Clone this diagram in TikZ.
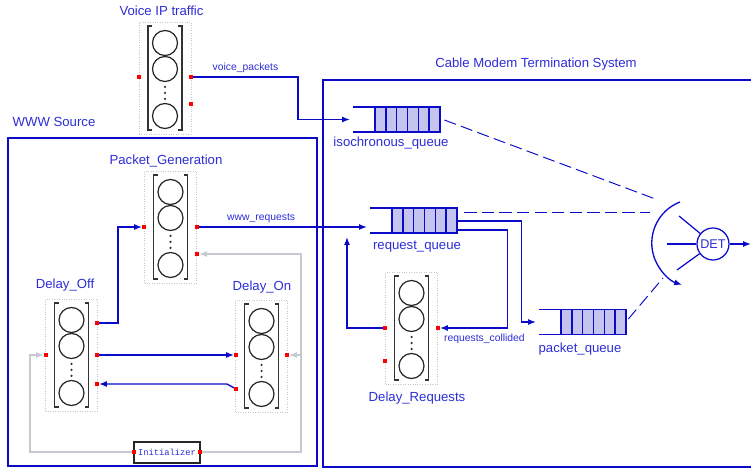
\documentclass[tikz,border=0pt]{standalone}
\usepackage{fontspec}
\setmainfont{Liberation Sans}
\setmonofont{Liberation Mono}
\usetikzlibrary{arrows.meta, positioning, calc}

\definecolor{linkblue}{RGB}{10,10,200}
\definecolor{txtblue}{RGB}{45,45,215}
\definecolor{wire}{RGB}{198,202,208}
\definecolor{cellfill}{RGB}{196,196,238}

\begin{document}
\begin{tikzpicture}[
    x=0.02cm, y=-0.02cm,
    title/.style={text=txtblue, font=\fontsize{7.5}{9}\selectfont, inner sep=0pt},
    lbl/.style={text=txtblue, font=\fontsize{5.9}{7}\selectfont, inner sep=1pt},
    frame/.style={draw=linkblue, line width=0.6pt},
    flow/.style={draw=linkblue, line width=0.75pt, -{Latex[length=4.5pt,width=3.4pt]}},
    link/.style={draw=linkblue, line width=0.7pt},
    dashlink/.style={draw=linkblue, line width=0.55pt, dash pattern=on 7pt off 3pt},
    initflow/.style={draw=wire, line width=0.75pt, -{Latex[length=4.5pt,width=3.4pt]}},
    port/.style={fill=red, inner sep=0pt, minimum size=1.8pt},
    stagebox/.style={draw=black!22, densely dotted, fill=white, minimum width=1.04cm, minimum height=2.24cm, inner sep=0pt},
    slot/.style={draw=black!85, line width=0.7pt, fill=white},
    cell/.style={draw=linkblue, line width=0.8pt, fill=cellfill, minimum width=0.217cm, minimum height=0.5cm, inner sep=0pt},
    initbox/.style={draw=black!85, line width=0.6pt, fill=white, text=txtblue, font=\ttfamily\fontsize{5}{6}\selectfont, minimum width=1.32cm, minimum height=0.42cm, inner sep=0pt},
    sched/.style={circle, draw=linkblue, line width=0.7pt, fill=white, text=txtblue, font=\fontsize{7.2}{8}\selectfont, minimum size=0.64cm, inner sep=0pt},
    stage/.pic={
        \node[stagebox] (-box) at (0,0) {};
        \draw[black!80, line width=0.8pt] (-13,-52) -- (-17,-52) -- (-17,52) -- (-13,52);
        \draw[black!80, line width=0.8pt] (13,-52) -- (17,-52) -- (17,52) -- (13,52);
        \foreach \cy in {-35,-9,38}
            \draw[slot] (0,\cy) circle[radius=0.25cm];
        \foreach \cy in {9,15,21}
            \fill[black!80] (0,\cy) circle[radius=0.025cm];
    },
    fifo/.pic={
        \draw[link] (0,-12.5) -- (22,-12.5) (0,12.5) -- (22,12.5);
        \foreach \k in {0,...,5}
            \node[cell] at (27.42+10.83*\k,0) {};
        \node[inner sep=0pt, minimum width=1.3cm, minimum height=0.5cm] (-box) at (54.5,0) {};
        \coordinate (-in) at (-3,0);
    }
]
    \useasboundingbox (0,0) rectangle (751,469);

    % Frames
    \draw[frame] (8,138) rectangle (317,466);
    \draw[frame] (751,80) -- (323,80) -- (323,467) -- (751,467);

    % Titles
    \node[title] (tVoice) at (161.5,11) {Voice IP traffic};
    \node[title] (tWww) at (54,122) {WWW Source};
    \node[title] (tCmts) at (536,64) {Cable Modem Termination System};
    \node[title] (tPg) at (166,161) {Packet\_Generation};
    \node[title] (tOff) at (65,285) {Delay\_Off};
    \node[title] (tOn) at (262,287) {Delay\_On};
    \node[title] (tDr) at (417,398) {Delay\_Requests};
    \node[title] (tIq) at (391,143) {isochronous\_queue};
    \node[title] (tRq) at (417,247) {request\_queue};
    \node[title] (tPq) at (580,349) {packet\_queue};

    % Modules
    \pic (voice) at (165,78) {stage};
    \pic (pg) at (170.5,227) {stage};
    \pic (off) at (71.5,355) {stage};
    \pic (on) at (261.5,356) {stage};
    \pic (dr) at (411.5,328) {stage};
    \node[initbox] (ini) at (167,452.5) {Initializer};

    % Queues
    \pic (iq) at (353,119.5) {fifo};
    \pic (rq) at (370,220.5) {fifo};
    \pic (pq) at (539,322) {fifo};

    % Ports
    \node[port] (vL) at (139,77) {};
    \node[port] (vR1) at (191,77) {};
    \node[port] (vR2) at (191,104) {};
    \node[port] (pgL) at (144,227) {};
    \node[port] (pgR1) at (197,227) {};
    \node[port] (pgR2) at (197,254) {};
    \node[port] (offL) at (46,355) {};
    \node[port] (offR1) at (97,323) {};
    \node[port] (offR2) at (97,355) {};
    \node[port] (offR3) at (97,384) {};
    \node[port] (onL1) at (236,355) {};
    \node[port] (onL2) at (236,389) {};
    \node[port] (onR) at (287,355) {};
    \node[port] (drL1) at (385,328) {};
    \node[port] (drL2) at (385,361) {};
    \node[port] (drR) at (438,328) {};
    \node[port] (iniL) at (134,452) {};
    \node[port] (iniR) at (200,452) {};

    % Scheduler
    \node[sched] (det) at (713,244) {DET};
    \draw[flow] (680,202) arc[start angle=111, end angle=252, radius=0.88cm];
    \coordinate (sp1) at (679,216);
    \coordinate (sp2) at (667,244);
    \coordinate (sp3) at (677,270);
    \coordinate (detOut) at (751,244);
    \coordinate (dIso) at (658,200);
    \coordinate (dReq) at (650,212);
    \coordinate (dPkt) at (663,278);
    \coordinate (rqBack) at (347,237);
    \draw[link] (sp1) -- (det);
    \draw[link] (sp2) -- (det);
    \draw[link] (sp3) -- (det);
    \draw[flow] (det) -- (detOut);

    % Flows
    \draw[flow] (vR1) -- ++(107,0) node[midway, above=1pt, lbl] {voice\_packets} |- (iq-in);
    \draw[flow] (pgR1) -- (pgR1 -| rq-in) node[pos=0.37, above=1pt, lbl] {www\_requests};
    \draw[flow] (offR1) -- ++(21,0) |- (pgL);
    \draw[flow] (offR2) -- (onL1);
    \draw[flow] (onL2) -- ++(-9,-5) -- (offR3);
    \draw[flow] ($(rq-box.east)+(0,0.5)$) -- ++(64,0) |- (pq-in);
    \draw[flow] ($(rq-box.east)+(0,9.5)$) -- ++(50,0) |- (drR) node[pos=0.67, below=2pt, lbl] {requests\_collided};
    \draw[flow] (drL1) -| (rqBack);

    % Initializer wiring
    \draw[initflow] (iniL) -- ++(-104,0) |- (offL);
    \draw[initflow] (iniR) -- ++(101,0) coordinate (gCorner) |- (onR);
    \draw[initflow] (onR -| gCorner) |- (pgR2);

    % Dashed links to scheduler
    \draw[dashlink] ($(iq-box.east)+(4,0.5)$) -- (dIso);
    \draw[dashlink] ($(rq-box.east)+(7,-8.5)$) -- (dReq);
    \draw[dashlink] ($(pq-box.east)+(2,-3)$) -- (dPkt);

    % redraw ports on top
    \foreach \p in {vL,vR1,vR2,pgL,pgR1,pgR2,offL,offR1,offR2,offR3,onL1,onL2,onR,drL1,drL2,drR,iniL,iniR}
        \fill[red] (\p.south west) rectangle (\p.north east);
\end{tikzpicture}
\end{document}
